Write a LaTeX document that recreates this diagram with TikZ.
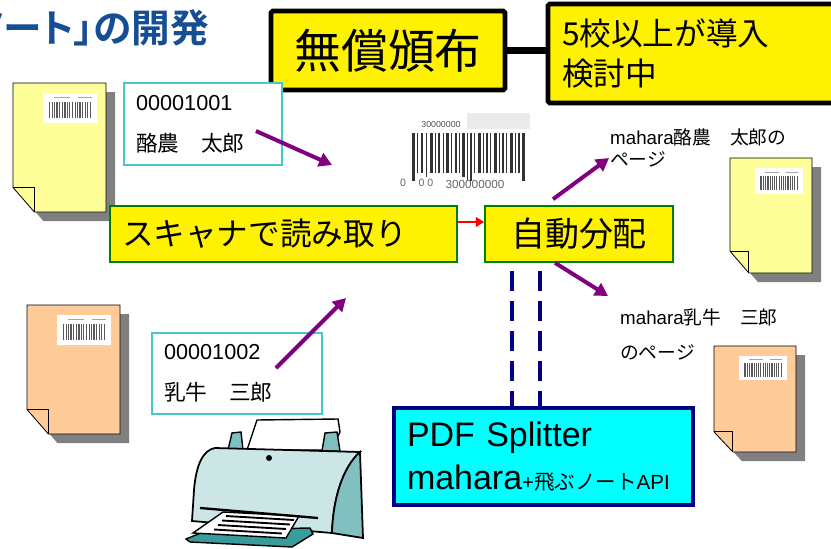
\documentclass[tikz,border=0pt]{standalone}
\usepackage{fontspec}
\setmainfont{Liberation Sans}
\newfontfamily\jp{Noto Sans CJK JP}
\newfontfamily\jpbold[RawFeature=+palt]{Noto Sans CJK JP Bold}
\usetikzlibrary{arrows.meta,calc}

\newlength\pxl
\setlength\pxl{0.03cm}

\definecolor{titleblue}{RGB}{22,78,148}
\definecolor{namecyan}{RGB}{70,200,200}
\definecolor{stepgreen}{RGB}{0,128,0}
\definecolor{arrowpurple}{RGB}{128,0,128}
\definecolor{navy}{RGB}{0,0,128}
\definecolor{splitcyan}{RGB}{0,255,255}
\definecolor{sheetyellow}{RGB}{255,255,153}
\definecolor{sheetorange}{RGB}{255,204,153}
\definecolor{sheetshadow}{RGB}{128,128,128}
\definecolor{printerbody}{RGB}{204,230,230}
\definecolor{printerside}{RGB}{128,192,192}
\definecolor{printertray}{RGB}{56,156,156}

% 纸张: x, y, 宽, 高, 颜色
\newcommand\docsheet[5]{%
  \pgfmathsetmacro\foldw{0.23*#3}%
  \pgfmathsetmacro\foldh{0.19*#4}%
  \fill[sheetshadow] ({#1+9},{#2+9}) -- ++(#3,0) -- ++(0,#4) -- ++({-#3+\foldw},0) -- ++({-\foldw},{-\foldh}) -- cycle;
  \filldraw[fill=#5,line width=0.7pt] (#1,#2) -- ++(#3,0) -- ++(0,#4) -- ++({-#3+\foldw},0) -- ++({-\foldw},{-\foldh}) -- cycle;
  \draw[line width=0.7pt] ({#1},{#2+#4-\foldh}) -- ++(\foldw,0) -- ++(0,\foldh);
  % 条码
  \pgfmathsetmacro\bcw{0.58*#3}%
  \pgfmathsetmacro\bch{0.23*#4}%
  \pgfmathsetmacro\bcx{#1+#3-9-\bcw}%
  \pgfmathsetmacro\bcy{#2+10}%
  \fill[white] (\bcx,\bcy) rectangle ++(\bcw,\bch);
  \draw[black!35,line width=0.6pt] ({\bcx+0.2*\bcw},{\bcy+0.15*\bch}) -- ++({0.3*\bcw},0)
    ({\bcx+0.65*\bcw},{\bcy+0.15*\bch}) -- ++({0.25*\bcw},0);
  \foreach \i in {0,...,16}{
    \pgfmathsetmacro\barw{mod(\i*5,3)==0 ? 1.3 : 0.6}
    \draw[black!65,line width=\barw pt] ({\bcx+(0.12+0.047*\i)*\bcw},{\bcy+0.3*\bch}) -- ++(0,{0.55*\bch});
  }
}

\begin{document}
\begin{tikzpicture}[x=0.03cm,y=-0.03cm,
    bigbox/.style={draw=black,line width=4pt,fill=yellow,rounded corners=1.5pt,inner ysep=0pt},
    namebox/.style={draw=namecyan,line width=1.4pt,fill=white,align=left,inner xsep=12\pxl,
      font=\fontsize{18.5}{35}\selectfont},
    stepbox/.style={draw=stepgreen,line width=1.4pt,fill=yellow,minimum height=56\pxl,inner ysep=0pt},
    pointer/.style={arrowpurple,line width=3.4pt,-{Triangle[length=11pt,width=12pt]}},
    link/.style={navy,line width=4.2pt,dash pattern=on 0.6cm off 0.3cm}]
  \clip (0,0) rectangle (831,548);

  % 标题
  \node[font=\jpbold\fontsize{33}{38}\selectfont,text=titleblue,anchor=east,inner sep=0pt]
    (title) at (209,27.5) {ノート」の開発};

  % 上方的框
  \node[bigbox,minimum width=234\pxl,minimum height=79\pxl,font=\jp\fontsize{40}{48}\selectfont]
    (free) at (388,50.5) {無償頒布};
  \node[bigbox,minimum height=99\pxl,text width=272\pxl,inner xsep=14\pxl,align=left,
    font=\jp\fontsize{27}{34}\selectfont] (plan) at (698,53.5) {5校以上が導入\\検討中};
  \draw[line width=6.5pt] (free.east) -- (free.east -| plan.west);

  % 纸张
  \docsheet{13}{83}{93}{129}{sheetyellow}
  \docsheet{730}{158}{82}{115}{sheetyellow}
  \docsheet{27}{305}{93}{129}{sheetorange}
  \docsheet{714}{346}{82}{106}{sheetorange}

  % 编号和姓名
  \node[namebox,minimum height=82\pxl,text width=134\pxl] (name1) at (203,124) {00001001\\{\jp 酪農　太郎}};
  \node[namebox,minimum height=81\pxl,text width=146\pxl] (name2) at (237,373.5) {00001002\\{\jp 乳牛　三郎}};

  % 中间的条码
  \fill[black!8] (467,113) rectangle (530,129);
  \node[font=\fontsize{7.5}{8}\selectfont,text=black!70,inner sep=0pt] (code) at (441,124) {30000000};
  \foreach \b/\w/\l in {412/2.5/48,417/1.2/40,421/2/40,426/1/44,430/2.5/40,435/1/40,438/2/40,
      443/1.2/40,446/2.5/40,451/1/40,455/2/40,459/1.2/40,462/2.5/44,467/1/48,470/2/48,474/1.2/40,
      478/2.5/40,483/1/40,486/2/40,490/1.2/40,494/2.5/40,499/1/40,502/2/40,506/1.2/40,510/2.5/40,
      515/1/40,518/2/40,522/2.5/48}
    \fill[black!80] (\b,133) rectangle ++(\w,\l);
  \node[font=\fontsize{9}{9}\selectfont,text=black!60,inner sep=0pt] (digitA) at (403,183) {0};
  \node[font=\fontsize{9}{9}\selectfont,text=black!60,inner sep=0pt] (digitB) at (426,183) {0 0};
  \node[font=\fontsize{10}{10}\selectfont,text=black!60,inner sep=0pt] (digitC) at (475,184) {300000000};

  % 流程
  \node[stepbox,text width=323\pxl,inner xsep=12\pxl,align=left,font=\jp\fontsize{27}{32}\selectfont]
    (scan) at (283.5,234) {スキャナで読み取り};
  \node[stepbox,minimum width=188\pxl,font=\jp\fontsize{29}{34}\selectfont] (dist) at (579,234) {自動分配};
  \node[draw=navy,line width=3pt,fill=splitcyan,minimum height=97\pxl,text width=273\pxl,
    inner xsep=13\pxl,align=left,font=\fontsize{29}{36.5}\selectfont] (split) at (543.5,456.5)
    {PDF Splitter\\mahara{\fontsize{17.5}{20}\selectfont+{\jp 飛ぶノート}API}};

  \node[anchor=west,align=left,inner sep=0pt,font=\fontsize{16}{19.5}\selectfont]
    (page1) at (610,148) {mahara{\jp 酪農　太郎の}\\{\jp ページ}};
  \node[anchor=west,align=left,inner sep=0pt,font=\fontsize{16}{30}\selectfont]
    (page2) at (620,334.5) {mahara{\jp 乳牛　三郎}\\{\jp のページ}};

  % 箭头
  \coordinate (in1) at (256,131);
  \coordinate (out1) at (332,165);
  \coordinate (in2) at (276,368);
  \coordinate (out2) at (346,298);
  \coordinate (up) at (609,158);
  \coordinate (down) at (608,296);
  \draw[pointer] (in1) -- (out1);
  \draw[pointer] (in2) -- (out2);
  \draw[red,line width=2.5pt,-{Triangle[length=7pt,width=8pt]}] ($(scan.east)+(0,-12)$) -- ($(dist.west)+(0,-12)$);
  \draw[pointer] ($(dist.north)+(-26,-6)$) -- (up);
  \draw[pointer] ($(dist.south)+(-24,0)$) -- (down);
  \draw[link] ($(dist.south)+(-67,8)$) -- ($(split.north)+(-31.5,0)$);
  \draw[link] ($(dist.south)+(-39,8)$) -- ($(split.north)+(-3.5,0)$);

  % 打印机
  \filldraw[fill=white,line width=1.2pt] (247,450) -- (257,420) -- (338,419) -- (340,432) -- (331,450) -- cycle;
  \filldraw[fill=printerside,line width=1.2pt] (228,450) -- (232,433) -- (241,432) -- (243,450) -- cycle;
  \filldraw[fill=printerside,line width=1.2pt] (322,451) -- (325,433) -- (337,432) -- (340,451) -- cycle;
  \filldraw[fill=printerbody,line width=1.5pt] (215,448) -- (360,452) .. controls (342,468) and (333,500) .. (332,533)
    -- (192,521) -- (194,490) .. controls (196,465) and (203,450) .. (215,448) -- cycle;
  \filldraw[fill=printerside,line width=1.5pt] (360,452) -- (363,538) -- (332,533) .. controls (333,500) and (342,468) .. (360,452) -- cycle;
  \fill (269,458) circle (3);
  \filldraw[fill=printertray,line width=1.2pt] (186,539) -- (208,530) -- (310,528) -- (313,534) -- (292,547) -- (190,542) -- cycle;
  \filldraw[fill=white,line width=1.2pt] (193,533) -- (223,512) -- (299,516) -- (286,538) -- cycle;
  \foreach \k in {0,...,3}
    \draw[line width=1.6pt] ({226-4*\k},{516+4.5*\k}) -- ({294-4*\k},{520+4.5*\k});
  \draw[line width=2pt] (200,508) -- (318,518);
\end{tikzpicture}
\end{document}
